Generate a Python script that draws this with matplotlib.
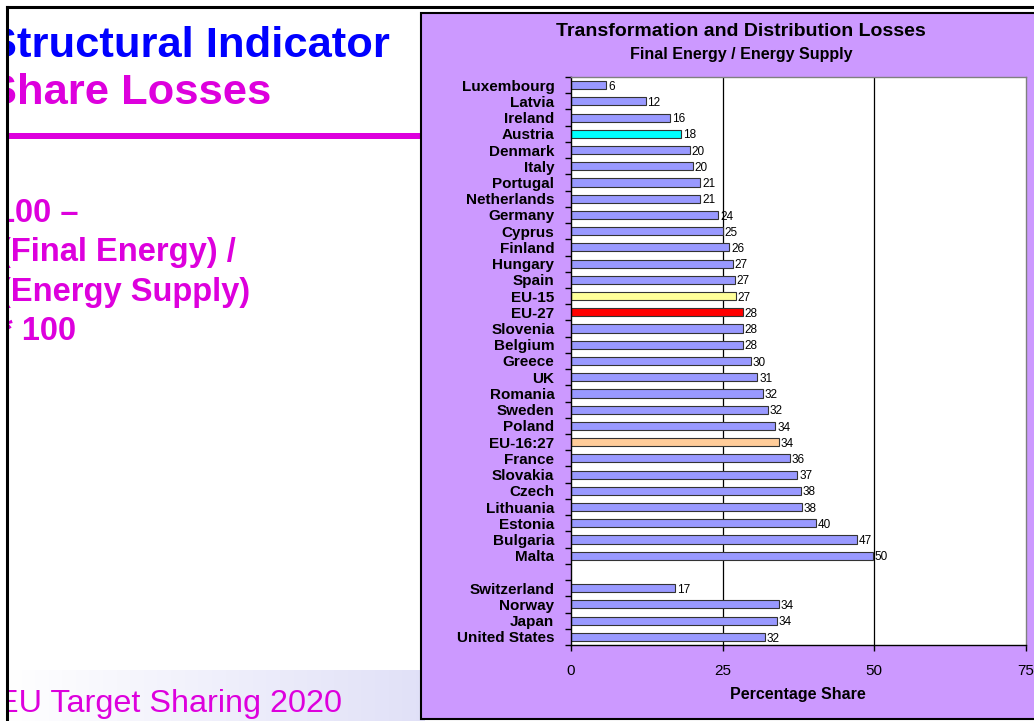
import numpy as np
import matplotlib
matplotlib.use("Agg")
import matplotlib.pyplot as plt
from matplotlib.patches import Rectangle

plt.rcParams['font.family'] = ['Liberation Sans', 'DejaVu Sans']

# data
eu_countries = ["Luxembourg", "Latvia", "Ireland", "Austria", "Denmark", "Italy",
                "Portugal", "Netherlands", "Germany", "Cyprus", "Finland", "Hungary",
                "Spain", "EU-15", "EU-27", "Slovenia", "Belgium", "Greece", "UK",
                "Romania", "Sweden", "Poland", "EU-16:27", "France", "Slovakia",
                "Czech", "Lithuania", "Estonia", "Bulgaria", "Malta"]
eu_values = [5.8, 12.3, 16.3, 18.1, 19.6, 20.1, 21.3, 21.3, 24.3, 25.0, 26.1, 26.7,
             27.0, 27.2, 28.3, 28.3, 28.3, 29.7, 30.7, 31.6, 32.4, 33.7, 34.3, 36.1,
             37.3, 37.9, 38.1, 40.4, 47.2, 49.7]
eu_labels = ["6", "12", "16", "18", "20", "20", "21", "21", "24", "25", "26", "27",
             "27", "27", "28", "28", "28", "30", "31", "32", "32", "34", "34", "36",
             "37", "38", "38", "40", "47", "50"]
other_countries = ["Switzerland", "Norway", "Japan", "United States"]
other_values = [17.2, 34.3, 33.9, 31.9]
other_labels = ["17", "34", "34", "32"]
x_ticks = [0, 25, 50, 75]

highlight = {"Austria": "#00FFFF", "EU-15": "#FFFF99", "EU-27": "#FF0000",
             "EU-16:27": "#FFCC99"}

W, H = 1034, 721
fig = plt.figure(figsize=(W / 100, H / 100), dpi=100)
fig.patch.set_facecolor("white")

# slide background drawn in pixel coordinates
bg = fig.add_axes([0, 0, 1, 1])
bg.set_xlim(0, W)
bg.set_ylim(H, 0)
bg.axis("off")

magenta = "#DD00DD"
bg.text(-12, 46, "Structural Indicator", color="#0000FF", fontsize=31.3,
        fontweight="bold", va="center", ha="left")
bg.text(-12, 93, "Share Losses", color=magenta, fontsize=31.3,
        fontweight="bold", va="center", ha="left")
bg.add_patch(Rectangle((7, 133), 420, 6, color=magenta, lw=0))

body = ["100 \u2013", "(Final Energy) /", "(Energy Supply)", "* 100"]
for i, line in enumerate(body):
    bg.text(0 if line[0] in "(*" else -3, 214 + i * 39,
            line, color=magenta, fontsize=23.5, fontweight="bold", va="center", ha="left")

grad = np.linspace(0, 1, 256)[None, :, None]
c0 = np.array([1.0, 1.0, 1.0])
c1 = np.array([0.88, 0.88, 0.97])
bg.imshow(c0 + (c1 - c0) * grad, extent=[7, 425, H, 670], aspect="auto", zorder=1)
bg.text(-3, 704, "EU Target Sharing 2020", color=magenta, fontsize=23.3,
        va="center", ha="left", zorder=2)

# mask left of the slide border and draw border lines
bg.add_patch(Rectangle((0, 0), 7, H, color="white", lw=0, zorder=5))
bg.plot([7, 7], [7, H], color="black", lw=2.2, zorder=6)
bg.plot([7, W], [7, 7], color="black", lw=2.2, zorder=6)

# chart panel
bg.add_patch(Rectangle((421, 13), 640, 706, facecolor="#CC99FF", edgecolor="black",
                       lw=1.5, zorder=7))
bg.text(741, 31, "Transformation and Distribution Losses", fontsize=14,
        fontweight="bold", ha="center", va="center", zorder=8)
bg.text(741, 54, "Final Energy / Energy Supply", fontsize=11.5,
        fontweight="bold", ha="center", va="center", zorder=8)
bg.text(798, 694, "Percentage Share", fontsize=11.5,
        fontweight="bold", ha="center", va="center", zorder=8)

# bar chart
left, right, top, bottom = 571, 1026, 77, 645
ax = fig.add_axes([left / W, 1 - bottom / H, (right - left) / W, (bottom - top) / H])
ax.set_zorder(10)
ax.set_facecolor("white")

names = eu_countries + [""] + other_countries
values = eu_values + [np.nan] + other_values
labels = eu_labels + [""] + other_labels
pos = np.arange(len(names))
colors = [highlight.get(n, "#9999FF") for n in names]

for x in x_ticks[1:-1]:
    ax.axvline(x, color="black", lw=0.9, zorder=1)

ax.barh(pos, values, height=0.5, color=colors, edgecolor="#333333", lw=0.8, zorder=2)
for p, v, lab in zip(pos, values, labels):
    if lab:
        ax.text(v + 0.3, p + 0.1, lab, fontsize=8.5, va="center", ha="left",
                family=["Liberation Sans Narrow", "Liberation Sans"], zorder=3)

ax.set_xlim(0, 75)
ax.set_ylim(len(names) - 0.5, -0.5)
ax.set_xticks(x_ticks)
ax.set_xticklabels([str(t) for t in x_ticks], fontsize=11)
ax.tick_params(axis="x", direction="out", length=4, width=1, pad=10)

ax.set_yticks(np.arange(len(names) + 1) - 0.5)
ax.set_yticklabels([])
ax.set_yticks(pos, minor=True)
ax.set_yticklabels(names, minor=True, fontsize=11, fontweight="bold")
ax.tick_params(axis="y", which="major", direction="out", length=4, width=1)
ax.tick_params(axis="y", which="minor", length=0, pad=12)

for s in ["left", "bottom"]:
    ax.spines[s].set_color("black")
    ax.spines[s].set_linewidth(1.0)
for s in ["top", "right"]:
    ax.spines[s].set_color("#808080")
    ax.spines[s].set_linewidth(1.0)

fig.savefig("out.png", dpi=100)
